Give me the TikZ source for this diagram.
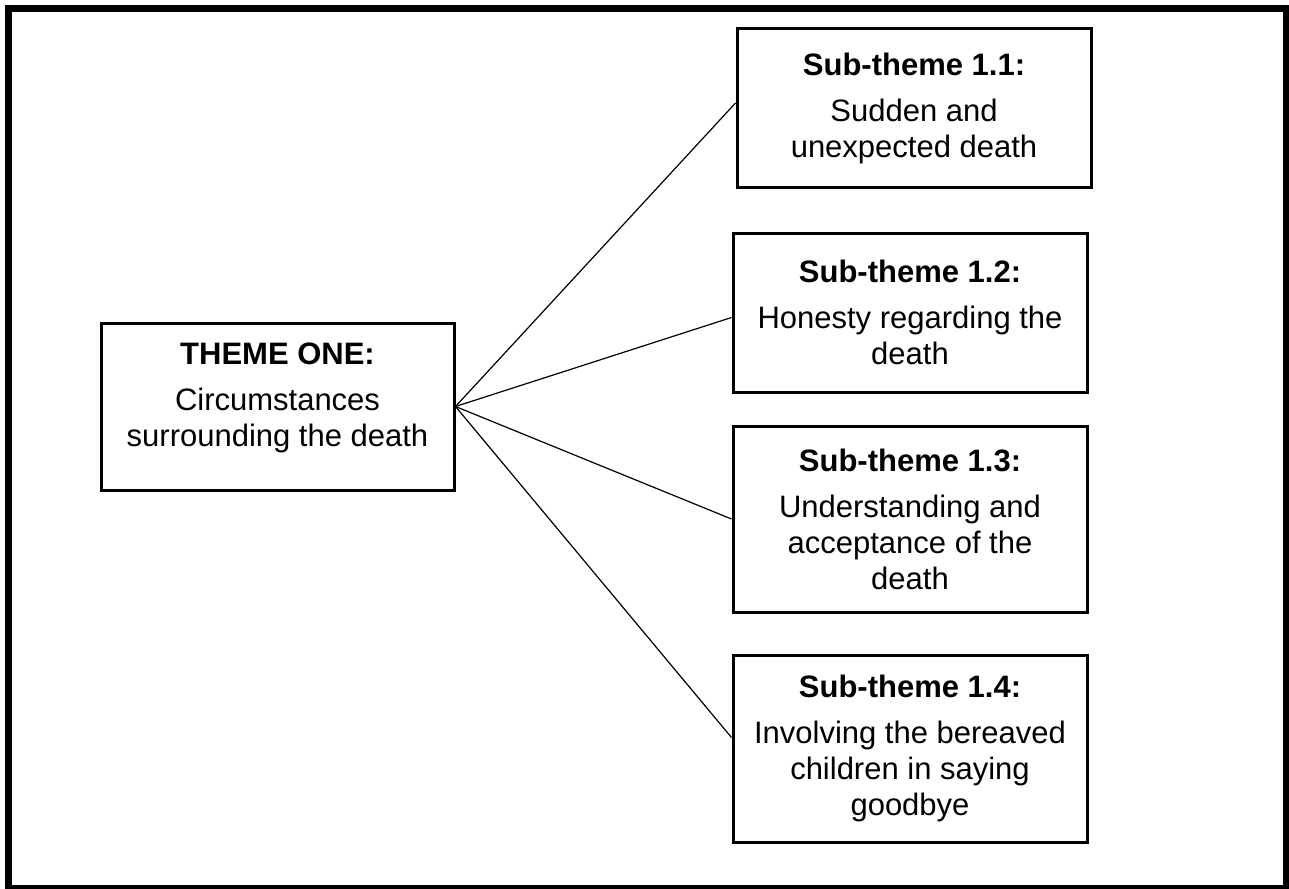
\documentclass[tikz,border=0pt]{standalone}
\usepackage{fontspec}
\setmainfont{Liberation Sans}
\begin{document}
\begin{tikzpicture}[x=1pt,y=-1pt,
  box/.style={draw, line width=3pt, align=center, inner sep=0pt,
    minimum width=354pt, font=\fontsize{31}{36}\selectfont},
  link/.style={line width=1.2pt},
  frame/.style={line width=7pt}]
\useasboundingbox (0,0) rectangle (1289,888);
\draw[frame] (8.5,8.5) rectangle (1286.5,888.5);
\node[box, minimum width=353pt, minimum height=167pt] (theme) at (277.5,406.5)
  {{\bfseries THEME ONE:}\\[10pt]Circumstances\\surrounding the death\\[-13pt]\mbox{}};
\node[box, minimum height=158pt] (s1) at (914,108)
  {{\bfseries Sub-theme 1.1:}\\[10pt]Sudden and\\unexpected death};
\node[box, minimum height=159pt] (s2) at (910,312.5)
  {{\bfseries Sub-theme 1.2:}\\[10pt]Honesty regarding the\\death};
\node[box, minimum height=186pt] (s3) at (910,519)
  {{\bfseries Sub-theme 1.3:}\\[10pt]Understanding and\\acceptance of the\\death};
\node[box, minimum height=187pt] (s4) at (910,748.5)
  {{\bfseries Sub-theme 1.4:}\\[10pt]Involving the bereaved\\children in saying\\goodbye};
\draw[link] (theme.east) -- ([yshift=5pt]s1.west);
\draw[link] (theme.east) -- ([yshift=-5pt]s2.west);
\draw[link] (theme.east) -- (s3.west);
\draw[link] (theme.east) -- ([yshift=11pt]s4.west);
\end{tikzpicture}
\end{document}
